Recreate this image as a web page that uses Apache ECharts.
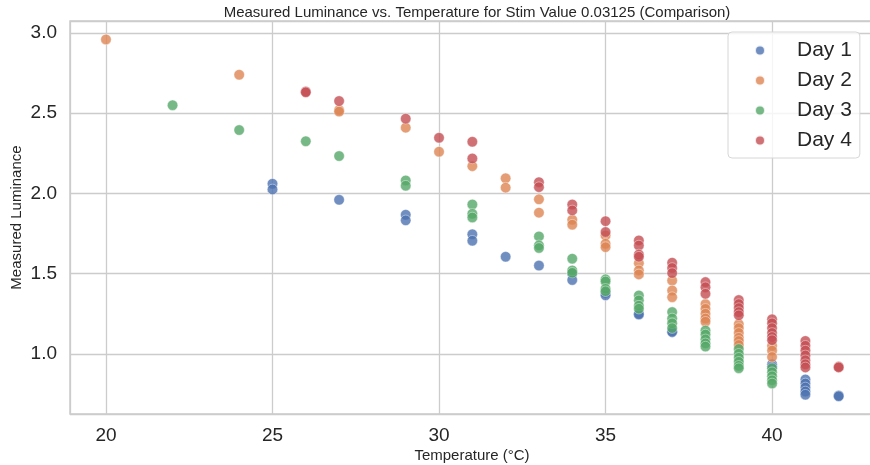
<!DOCTYPE html>
<html>
<head>
<meta charset="utf-8">
<script src="https://cdn.jsdelivr.net/npm/echarts@6/dist/echarts.min.js"></script>
<style>
  html, body { margin: 0; padding: 0; background: #fff; }
  #chart { width: 870px; height: 465px; }
</style>
</head>
<body>
<div id="chart"></div>
<script>
const chart = echarts.init(document.getElementById('chart'));

const dayNames = ["Day 1", "Day 2", "Day 3", "Day 4"];

// temperatura / luminancia
const day1Temp = [25, 25, 27, 29, 29, 31, 31, 32, 33, 34, 34, 35, 35, 36, 36, 37, 37,
  40, 40, 41, 41, 41, 41, 41, 42, 42];
const day1Lum = [2.06, 2.025, 1.96, 1.867, 1.832, 1.745, 1.705, 1.605, 1.55, 1.50, 1.46, 1.38, 1.365, 1.25, 1.245, 1.14, 1.135,
  0.935, 0.92, 0.84, 0.815, 0.79, 0.765, 0.745, 0.74, 0.735];

const day2Temp = [20, 24, 27, 27, 29, 30, 31, 32, 32, 33, 33, 34, 34, 35, 35, 35, 36, 36, 36, 37, 37, 37,
  38, 38, 38, 38, 38, 39, 39, 39, 39, 39, 39, 40, 40, 40];
const day2Lum = [2.96, 2.74, 2.52, 2.51, 2.41, 2.26, 2.17, 2.094, 2.036, 1.963, 1.88, 1.836, 1.805, 1.738, 1.686, 1.665, 1.565, 1.52, 1.495, 1.457, 1.395, 1.353,
  1.31, 1.28, 1.25, 1.22, 1.20, 1.185, 1.16, 1.13, 1.10, 1.08, 1.055, 1.05, 1.02, 0.98];

const day3Temp = [22, 24, 26, 27, 29, 29, 31, 31, 31, 33, 33, 33, 34, 34, 34, 35, 35, 35, 35, 36, 36, 36, 36,
  37, 37, 37, 37, 38, 38, 38, 38, 38, 39, 39, 39, 39, 39, 39, 40, 40, 40, 40, 40];
const day3Lum = [2.55, 2.395, 2.325, 2.233, 2.081, 2.048, 1.931, 1.873, 1.85, 1.732, 1.676, 1.66, 1.593, 1.52, 1.505, 1.464, 1.451, 1.405, 1.39, 1.364, 1.333, 1.30, 1.281,
  1.26, 1.22, 1.19, 1.16, 1.145, 1.12, 1.09, 1.065, 1.045, 1.03, 1.0, 0.975, 0.95, 0.925, 0.91, 0.91, 0.885, 0.86, 0.835, 0.815];

const day4Temp = [26, 26, 27, 29, 30, 31, 31, 33, 33, 34, 34, 35, 35, 36, 36, 36, 36, 37, 37, 37, 38, 38, 38,
  39, 39, 39, 39, 39, 40, 40, 40, 40, 40, 40, 41, 41, 41, 41, 41, 41, 41, 42, 42];
const day4Lum = [2.635, 2.63, 2.576, 2.466, 2.347, 2.322, 2.218, 2.07, 2.039, 1.931, 1.894, 1.827, 1.759, 1.707, 1.675, 1.619, 1.605, 1.568, 1.535, 1.503, 1.447, 1.415, 1.374,
  1.335, 1.31, 1.285, 1.26, 1.24, 1.215, 1.19, 1.16, 1.13, 1.105, 1.085, 1.08, 1.05, 1.02, 0.99, 0.96, 0.935, 0.915, 0.92, 0.915];

const colors = ['#4C72B0', '#DD8452', '#55A868', '#C44E52'];

const temps = [day1Temp, day2Temp, day3Temp, day4Temp];
const lums = [day1Lum, day2Lum, day3Lum, day4Lum];

function pairs(t, l) {
  return t.map(function (v, i) { return [v, l[i]]; });
}

const font = "'Liberation Sans', Arial, sans-serif";
const gridColor = '#cccccc';

const option = {
  animation: false,
  textStyle: { fontFamily: font },
  title: {
    text: 'Measured Luminance vs. Temperature for Stim Value 0.03125 (Comparison)',
    left: 472,
    textAlign: 'center',
    top: 0,
    textStyle: { fontSize: 15, fontWeight: 'normal', color: '#262626', fontFamily: font }
  },
  legend: {
    orient: 'vertical',
    left: 728,
    top: 32,
    padding: [8, 8, 7, 26],
    itemGap: 9,
    itemWidth: 10,
    itemHeight: 10,
    icon: 'circle',
    backgroundColor: 'rgba(255,255,255,0.8)',
    borderColor: '#d6d6d6',
    borderWidth: 1,
    borderRadius: 4,
    textStyle: { fontSize: 21, color: '#262626', padding: [0, 0, 0, 27], fontFamily: font },
    data: dayNames
  },
  grid: {
    left: 70,
    right: -4,
    top: 21,
    bottom: 51,
    outerBoundsMode: 'none',
    show: true,
    borderColor: gridColor,
    borderWidth: 1.5
  },
  xAxis: {
    type: 'value',
    min: 18.92,
    max: 43.06,
    splitNumber: 5,
    name: 'Temperature (°C)',
    nameLocation: 'middle',
    nameGap: 34,
    nameMoveOverlap: false,
    nameTextStyle: { fontSize: 15, color: '#262626' },
    axisLine: { show: false },
    axisTick: { show: false },
    axisLabel: {
      fontSize: 19, color: '#262626', margin: 12,
      showMinLabel: false, showMaxLabel: false
    },
    splitLine: { lineStyle: { color: gridColor, width: 1.3 } }
  },
  yAxis: {
    type: 'value',
    min: 0.6245,
    max: 3.075,
    splitNumber: 5,
    name: 'Measured Luminance',
    nameLocation: 'middle',
    nameGap: 46,
    nameMoveOverlap: false,
    nameTextStyle: { fontSize: 15, color: '#262626' },
    axisLine: { show: false },
    axisTick: { show: false },
    axisLabel: {
      fontSize: 19, color: '#262626', margin: 13,
      showMinLabel: false, showMaxLabel: false,
      formatter: function (v) { return v.toFixed(1); }
    },
    splitLine: { lineStyle: { color: gridColor, width: 1.3 } }
  },
  series: dayNames.map(function (name, i) {
    return {
      name: name,
      type: 'scatter',
      symbolSize: 10.5,
      data: pairs(temps[i], lums[i]),
      itemStyle: {
        color: colors[i],
        opacity: 0.8,
        borderColor: '#ffffff',
        borderWidth: 0.5
      }
    };
  })
};

chart.setOption(option);
</script>
</body>
</html>
